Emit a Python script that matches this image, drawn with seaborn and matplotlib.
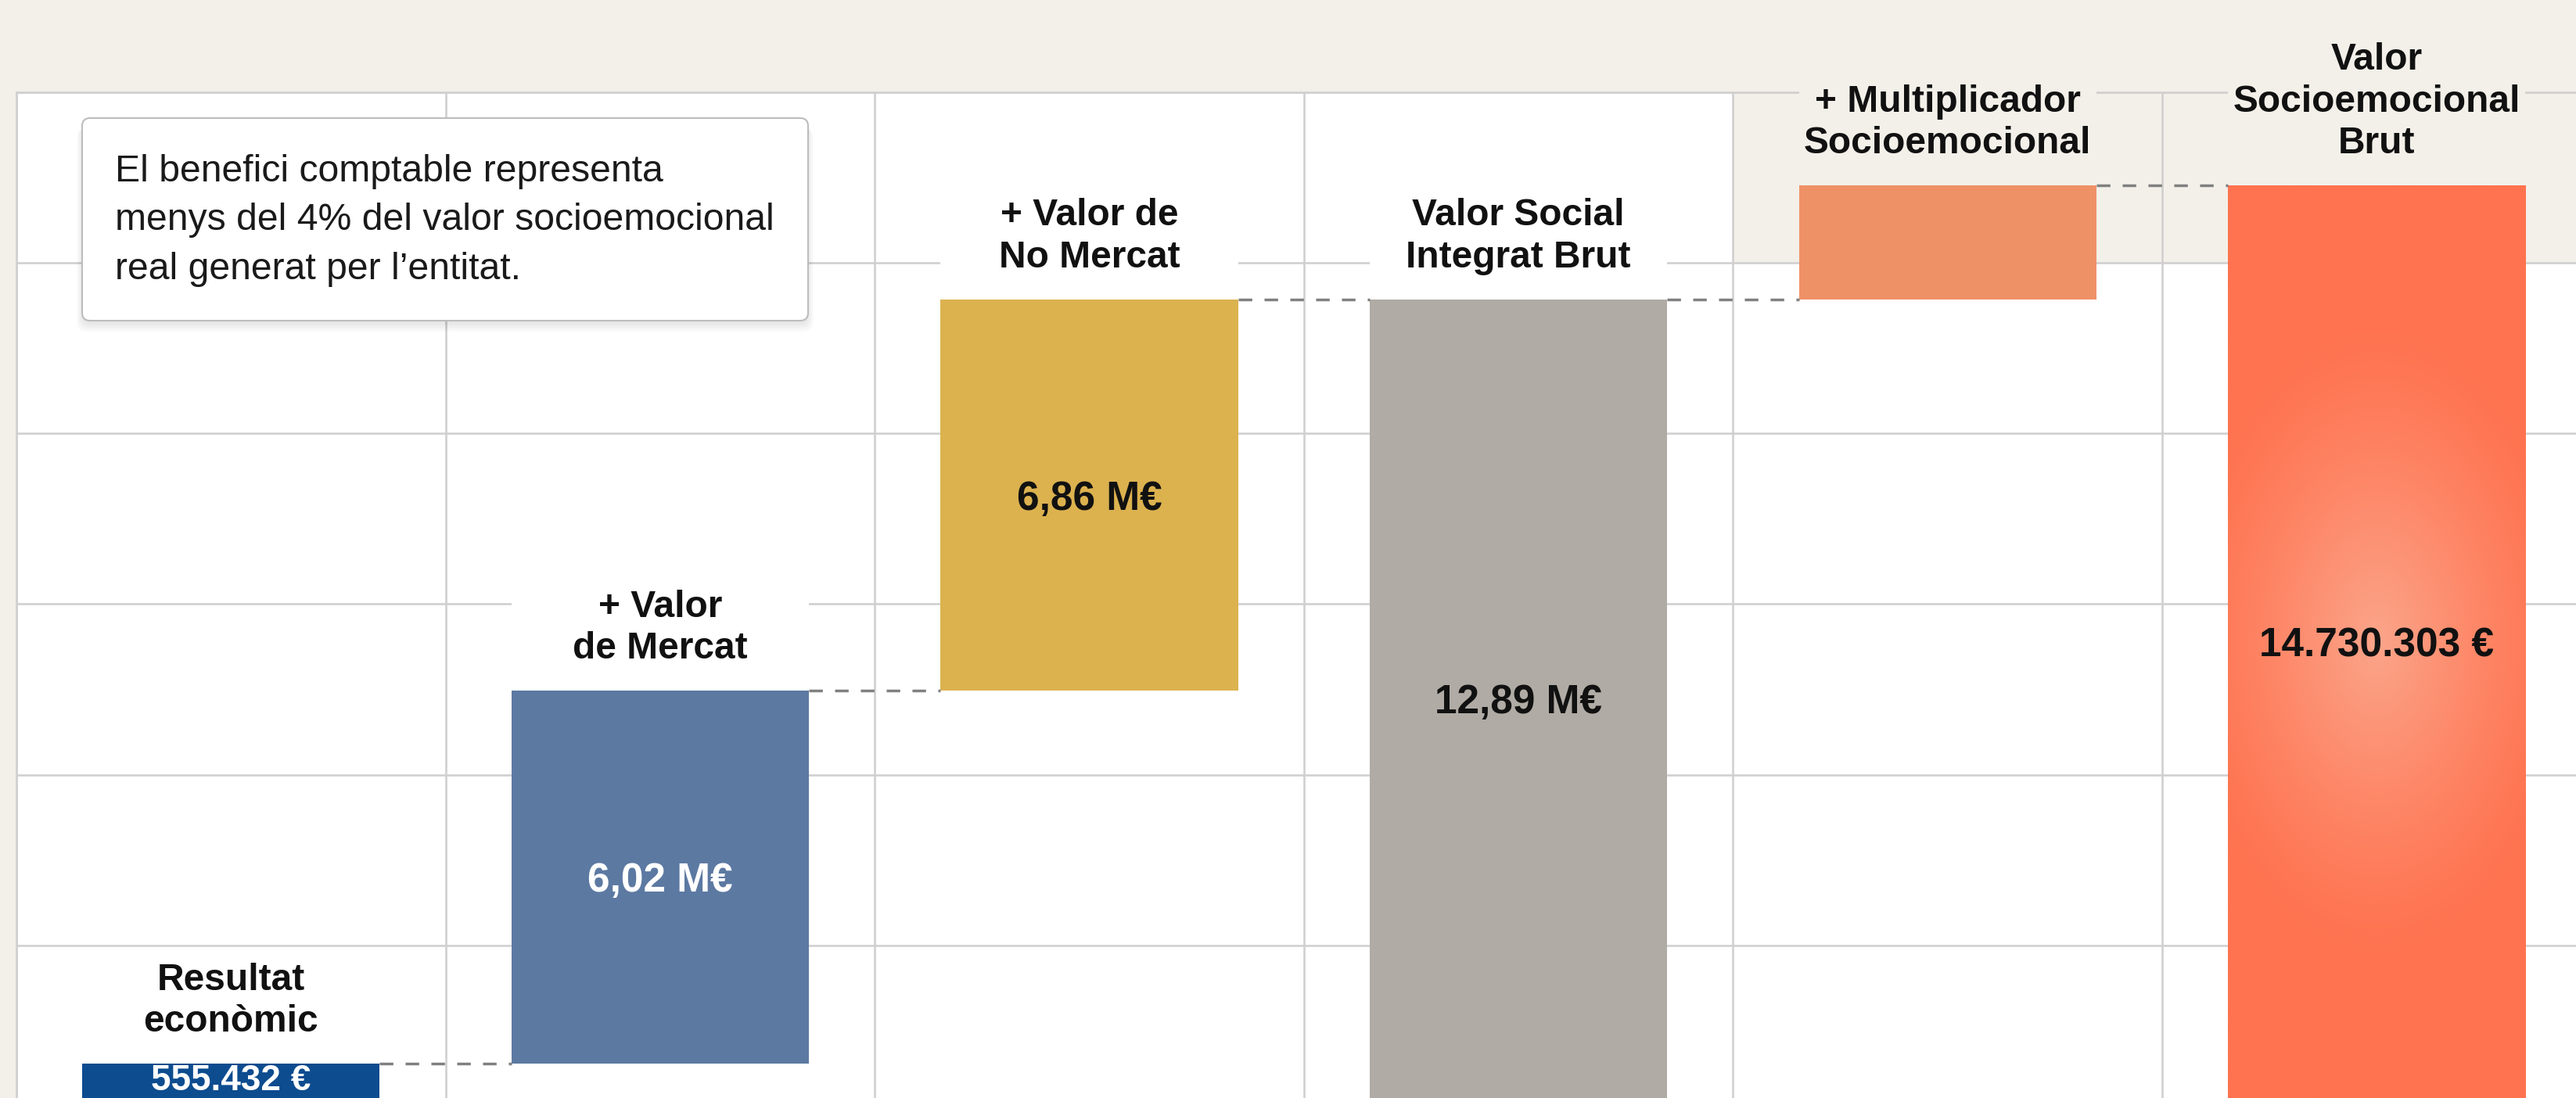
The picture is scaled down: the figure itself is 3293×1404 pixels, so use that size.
import numpy as np
import matplotlib
matplotlib.use("Agg")
import matplotlib.pyplot as plt
from matplotlib.patches import Rectangle, FancyBboxPatch
from matplotlib.transforms import IdentityTransform
import seaborn as sns

# waterfall data (euros)
categories = ["Resultat\neconòmic", "+ Valor\nde Mercat", "+ Valor de\nNo Mercat",
              "Valor Social\nIntegrat Brut", "+ Multiplicador\nSocioemocional",
              "Valor\nSocioemocional\nBrut"]
bar_start = [0, 555432, 6575432, 0, 12890000, 0]
bar_end = [555432, 6575432, 12890000, 12890000, 14730303, 14730303]
value_labels = ["555.432 €", "6,02 M€", "6,86 M€", "12,89 M€", "", "14.730.303 €"]
note = ("El benefici comptable representa\n"
        "menys del 4% del valor socioemocional\n"
        "real generat per l’entitat.")

bar_colors = ["#0D4C8F", "#5C79A2", "#DCB24F", "#B0ABA4", "#EF9167", "#FF7350"]
value_colors = ["white", "white", "#111111", "#111111", "#111111", "#111111"]
BG = "#F3F0E9"
GRID = "#D0D0D0"

sns.set_theme(style="white")
plt.rcParams["font.family"] = ["Liberation Sans", "DejaVu Sans"]

W, H, DPI = 3293, 1404, 100
fig = plt.figure(figsize=(W / DPI, H / DPI), dpi=DPI, facecolor=BG)
ax = fig.add_axes([21 / W, 0, 6 * 548.6 / W, (H - 118) / H])

BW = 0.693
heights = np.array(bar_end) - np.array(bar_start)
sns.barplot(x=categories, y=heights, bottom=bar_start, width=BW, errorbar=None,
            color="#888888", saturation=1, linewidth=0, ax=ax)
bars = list(ax.patches)
for patch, c in zip(bars, bar_colors):
    patch.set_facecolor(c)
    patch.set_zorder(1)

# soft radial glow on the final total
i = 5
x0, x1 = i - BW / 2, i + BW / 2
y0, y1 = bar_start[i], bar_end[i]
yy, xx = np.mgrid[y1:y0:400j, x0:x1:120j]
cy = (y0 + y1) / 2
d = np.sqrt(((xx - i) / 0.45) ** 2 + ((yy - cy) / 5.0e6) ** 2)
t = np.clip(1 - d, 0, 1) ** 1.2
edge = np.array([255, 115, 80]) / 255
center = np.array([251, 165, 138]) / 255
img = edge + (center - edge) * t[..., None]
im = ax.imshow(img, extent=(x0, x1, y0, y1), aspect="auto", origin="upper",
               interpolation="bilinear", zorder=1.5)
im.set_clip_path(bars[i])

YTOP = 16.23e6
STEP = 2.753e6
ax.set_xlim(-0.5, 5.5)
ax.set_ylim(0, YTOP)
ax.set_xticks(np.arange(-0.5, 6, 1))
ax.set_yticks(YTOP - STEP * np.arange(6))
ax.tick_params(length=0, labelbottom=False, labelleft=False)
ax.set_xlabel("")
ax.set_ylabel("")
ax.set_facecolor("white")
ax.grid(True, color=GRID, lw=1.9)
ax.set_axisbelow(True)
for side, sp in ax.spines.items():
    sp.set_visible(side in ("top", "left"))
    sp.set_color(GRID)
    sp.set_linewidth(1.9)

# beige corner behind the last two headers
ax.add_patch(Rectangle((3.5, YTOP - STEP), 2.0, STEP, facecolor=BG,
                       edgecolor="none", zorder=0.3))

# dashed connectors
for k in range(5):
    ax.plot([k + BW / 2, k + 1 - BW / 2], [bar_end[k]] * 2, color="#808080",
            lw=2.5, dashes=(5, 4.5), zorder=2)

# headers above bars
headers = []
for k, (cat, top) in enumerate(zip(categories, bar_end)):
    headers.append(ax.annotate(cat, xy=(k, top), xytext=(0, 22), textcoords="offset points",
                               ha="center", va="bottom", fontsize=34.5, fontweight="bold",
                               color="#111111", linespacing=1.25, zorder=6,
                               annotation_clip=False))

# values inside bars (the first bar is too thin to centre on, so sit it on the base)
for k, lab in enumerate(value_labels):
    if k == 0:
        ax.annotate(lab, xy=(k, bar_start[k]), xytext=(0, 7.5), textcoords="offset points",
                    ha="center", va="baseline", fontsize=33, fontweight="bold",
                    color=value_colors[k], zorder=6)
    else:
        ax.text(k, (bar_start[k] + bar_end[k]) / 2, lab, ha="center", va="center_baseline",
                fontsize=37, fontweight="bold", color=value_colors[k], zorder=6)

fig.canvas.draw()
r = fig.canvas.get_renderer()
inv = ax.transData.inverted()
for k, tx in enumerate(headers):
    bb = tx.get_window_extent(r)
    (_, yb), (_, yt) = inv.transform([(0, bb.y0 - 12), (0, bb.y1 + 12)])
    ax.add_patch(Rectangle((k - BW / 2, yb), BW, yt - yb,
                           facecolor=BG if k >= 4 else "white", edgecolor="none",
                           zorder=5, clip_on=False))

# note box
bx, by, bw, bh = 105, H - 410, 928, 259
for s in range(8):
    fig.add_artist(FancyBboxPatch((bx - s, by - 4 - s * 1.5), bw + 2 * s, bh, transform=IdentityTransform(),
                                  boxstyle="round,pad=0,rounding_size=12",
                                  facecolor="black", edgecolor="none", alpha=0.012, zorder=9))
fig.add_artist(FancyBboxPatch((bx, by), bw, bh, transform=IdentityTransform(),
                              boxstyle="round,pad=0,rounding_size=10",
                              facecolor="white", edgecolor="#BDBDBD", lw=1.5, zorder=10))
fig.text(147, H - 282, note, transform=IdentityTransform(), ha="left", va="center",
         fontsize=34.7, linespacing=1.5, color="#1A1A1A", zorder=11)

fig.savefig("out.png", dpi=DPI, facecolor=BG)
